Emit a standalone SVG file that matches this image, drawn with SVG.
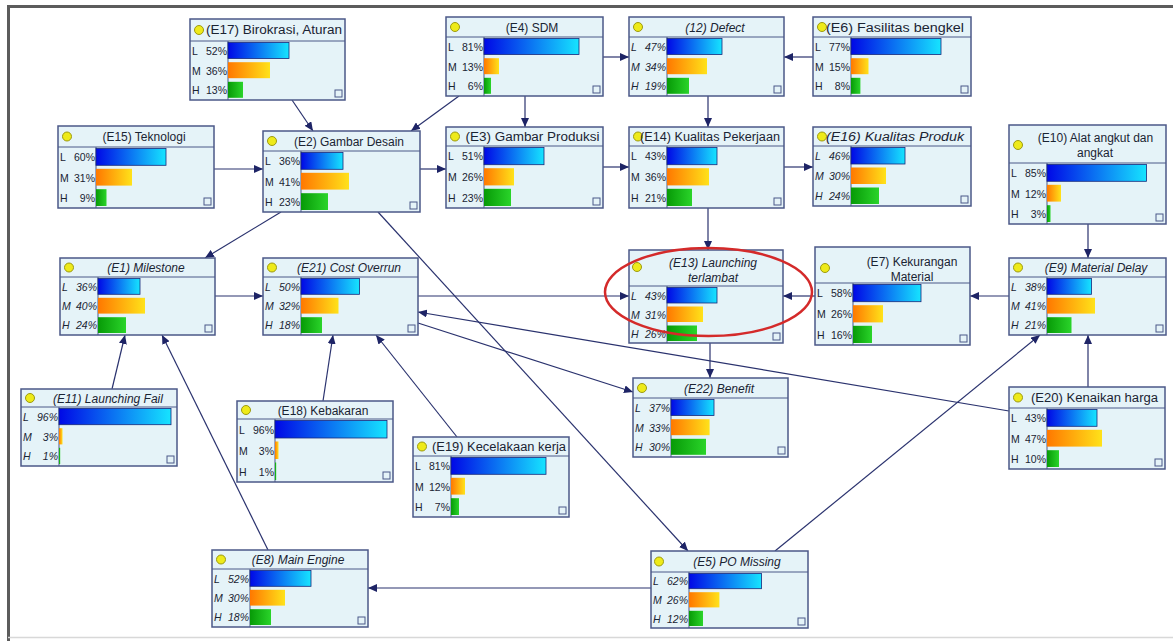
<svg xmlns="http://www.w3.org/2000/svg" width="1173" height="641" viewBox="0 0 1173 641">
<style>
.box{fill:#e5f3f8;stroke:#4b5888;stroke-width:1.5}
.sep{stroke:#4b5888;stroke-width:1;fill:none}
.ttl{font-family:"Liberation Sans",Arial,sans-serif;font-size:12px;fill:#1a2433;text-anchor:middle}
.lab{font-family:"Liberation Sans",Arial,sans-serif;font-size:10.5px;fill:#1a2433}
.end{text-anchor:end}
.it{font-style:italic}
.dot{fill:#eeea1a;stroke:#9c9a10;stroke-width:1}
.bL{fill:url(#gL);stroke:#17297a;stroke-width:0.8}
.bM{fill:url(#gM)}
.bH{fill:url(#gH)}
.ico{fill:none;stroke:#4b5888;stroke-width:1}
.edge{stroke:#2a326e;stroke-width:1.2;fill:none;marker-end:url(#ah)}
.frame{stroke:#5c5c5c;stroke-width:3;fill:none}
</style>
<defs>
<linearGradient id="gL" x1="0" y1="0" x2="1" y2="0"><stop offset="0" stop-color="#0008e6"/><stop offset="1" stop-color="#16e4ff"/></linearGradient>
<linearGradient id="gM" x1="0" y1="0" x2="1" y2="0"><stop offset="0" stop-color="#ff7800"/><stop offset="1" stop-color="#ffe21a"/></linearGradient>
<linearGradient id="gH" x1="0" y1="0" x2="1" y2="0"><stop offset="0" stop-color="#079a07"/><stop offset="1" stop-color="#2ad42a"/></linearGradient>
<marker id="ah" markerUnits="userSpaceOnUse" markerWidth="9" markerHeight="8" refX="9" refY="4" orient="auto"><path d="M0,0 L9,4 L0,8 Z" fill="#1e2466"/></marker>
</defs>
<rect width="1173" height="641" fill="#ffffff"/>
<path class="frame" d="M8.5,641 V6.5 H1173"/>
<path d="M8,637.5 H1173" stroke="#d8d8d8" stroke-width="1.5"/>

<g id="connectors">
<line class="edge" x1="292" y1="100" x2="313" y2="131"/>
<line class="edge" x1="459" y1="96" x2="411" y2="131"/>
<line class="edge" x1="525" y1="96" x2="525" y2="127"/>
<line class="edge" x1="603" y1="57" x2="629" y2="57"/>
<line class="edge" x1="813" y1="57" x2="784" y2="57"/>
<line class="edge" x1="708" y1="96" x2="708" y2="127"/>
<line class="edge" x1="214" y1="169" x2="263" y2="169"/>
<line class="edge" x1="420" y1="169" x2="446" y2="169"/>
<line class="edge" x1="603" y1="167" x2="629" y2="167"/>
<line class="edge" x1="784" y1="167" x2="813" y2="167"/>
<line class="edge" x1="708" y1="208" x2="708" y2="250"/>
<line class="edge" x1="1088" y1="224" x2="1088" y2="258"/>
<line class="edge" x1="281" y1="212" x2="205" y2="258"/>
<line class="edge" x1="378" y1="212" x2="688" y2="551"/>
<line class="edge" x1="215" y1="296" x2="263" y2="296"/>
<line class="edge" x1="418" y1="296" x2="629" y2="296"/>
<line class="edge" x1="1009" y1="296" x2="970" y2="296"/>
<line class="edge" x1="815" y1="296" x2="783" y2="296"/>
<line class="edge" x1="710" y1="343" x2="710" y2="378"/>
<line class="edge" x1="418" y1="323" x2="633" y2="392"/>
<line class="edge" x1="1009" y1="411" x2="418" y2="312"/>
<line class="edge" x1="1088" y1="387" x2="1088" y2="335"/>
<line class="edge" x1="775" y1="551" x2="1040" y2="335"/>
<line class="edge" x1="651" y1="588" x2="368" y2="588"/>
<line class="edge" x1="112" y1="389" x2="125" y2="335"/>
<line class="edge" x1="268" y1="550" x2="162" y2="335"/>
<line class="edge" x1="323" y1="401" x2="333" y2="335"/>
<line class="edge" x1="457" y1="437" x2="376" y2="335"/>
</g>

<g id="E17" transform="translate(190,19)">
<rect class="box" width="155" height="81"/><path class="sep" d="M0,22H155M38,22V81"/>
<circle class="dot" cx="9" cy="11" r="4.5"/><text class="ttl" x="84" y="15" textLength="136" lengthAdjust="spacingAndGlyphs">(E17) Birokrasi, Aturan</text>
<rect class="bL" x="38" y="23.5" width="61" height="16"/><rect class="bM" x="38" y="43.2" width="42" height="16"/><rect class="bH" x="38" y="62.8" width="15" height="16"/>
<text class="lab" x="2" y="35.8">L</text><text class="lab end" x="37" y="35.8">52%</text>
<text class="lab" x="2" y="55.5">M</text><text class="lab end" x="37" y="55.5">36%</text>
<text class="lab" x="2" y="75.2">H</text><text class="lab end" x="37" y="75.2">13%</text>
<rect class="ico" x="145" y="71" width="7" height="7"/>
</g>

<g id="E4" transform="translate(446,17)">
<rect class="box" width="157" height="79"/><path class="sep" d="M0,20H157M38,20V79"/>
<circle class="dot" cx="9" cy="10" r="4.5"/><text class="ttl" x="86" y="14.5">(E4) SDM</text>
<rect class="bL" x="38" y="21.5" width="95" height="16"/><rect class="bM" x="38" y="41.2" width="15" height="16"/><rect class="bH" x="38" y="60.8" width="7" height="16"/>
<text class="lab" x="2" y="33.8">L</text><text class="lab end" x="37" y="33.8">81%</text>
<text class="lab" x="2" y="53.5">M</text><text class="lab end" x="37" y="53.5">13%</text>
<text class="lab" x="2" y="73.2">H</text><text class="lab end" x="37" y="73.2">6%</text>
<rect class="ico" x="147" y="69" width="7" height="7"/>
</g>

<g id="E12" transform="translate(629,17)">
<rect class="box" width="155" height="79"/><path class="sep" d="M0,20H155M38,20V79"/>
<circle class="dot" cx="9" cy="10" r="4.5"/><text class="ttl it" x="86" y="14.5">(12) Defect</text>
<rect class="bL" x="38" y="21.5" width="55" height="16"/><rect class="bM" x="38" y="41.2" width="40" height="16"/><rect class="bH" x="38" y="60.8" width="22" height="16"/>
<text class="lab it" x="2" y="33.8">L</text><text class="lab end it" x="37" y="33.8">47%</text>
<text class="lab it" x="2" y="53.5">M</text><text class="lab end it" x="37" y="53.5">34%</text>
<text class="lab it" x="2" y="73.2">H</text><text class="lab end it" x="37" y="73.2">19%</text>
<rect class="ico" x="145" y="69" width="7" height="7"/>
</g>

<g id="E6" transform="translate(813,17)">
<rect class="box" width="158" height="79"/><path class="sep" d="M0,20H158M38,20V79"/>
<circle class="dot" cx="9" cy="10" r="4.5"/><text class="ttl" x="82" y="14.5" textLength="138" lengthAdjust="spacingAndGlyphs">(E6) Fasilitas bengkel</text>
<rect class="bL" x="38" y="21.5" width="90" height="16"/><rect class="bM" x="38" y="41.2" width="17.5" height="16"/><rect class="bH" x="38" y="60.8" width="9.4" height="16"/>
<text class="lab" x="2" y="33.8">L</text><text class="lab end" x="37" y="33.8">77%</text>
<text class="lab" x="2" y="53.5">M</text><text class="lab end" x="37" y="53.5">15%</text>
<text class="lab" x="2" y="73.2">H</text><text class="lab end" x="37" y="73.2">8%</text>
<rect class="ico" x="148" y="69" width="7" height="7"/>
</g>

<g id="E15" transform="translate(58,126)">
<rect class="box" width="156" height="82"/><path class="sep" d="M0,21H156M38,21V82"/>
<circle class="dot" cx="9" cy="10.5" r="4.5"/><text class="ttl" x="86" y="15">(E15) Teknologi</text>
<rect class="bL" x="38" y="22.5" width="70" height="16.8"/><rect class="bM" x="38" y="42.8" width="36" height="16.8"/><rect class="bH" x="38" y="63.2" width="10.5" height="16.8"/>
<text class="lab" x="2" y="35.2">L</text><text class="lab end" x="37" y="35.2">60%</text>
<text class="lab" x="2" y="55.5">M</text><text class="lab end" x="37" y="55.5">31%</text>
<text class="lab" x="2" y="75.8">H</text><text class="lab end" x="37" y="75.8">9%</text>
<rect class="ico" x="146" y="72" width="7" height="7"/>
</g>

<g id="E2" transform="translate(263,131)">
<rect class="box" width="157" height="81"/><path class="sep" d="M0,20H157M38,20V81"/>
<circle class="dot" cx="9" cy="10" r="4.5"/><text class="ttl" x="86" y="14.5">(E2) Gambar Desain</text>
<rect class="bL" x="38" y="21.5" width="42" height="16.8"/><rect class="bM" x="38" y="41.8" width="48" height="16.8"/><rect class="bH" x="38" y="62.2" width="27" height="16.8"/>
<text class="lab" x="2" y="34.2">L</text><text class="lab end" x="37" y="34.2">36%</text>
<text class="lab" x="2" y="54.5">M</text><text class="lab end" x="37" y="54.5">41%</text>
<text class="lab" x="2" y="74.8">H</text><text class="lab end" x="37" y="74.8">23%</text>
<rect class="ico" x="147" y="71" width="7" height="7"/>
</g>

<g id="E3" transform="translate(446,127)">
<rect class="box" width="157" height="81"/><path class="sep" d="M0,19H157M38,19V81"/>
<circle class="dot" cx="9" cy="9.5" r="4.5"/><text class="ttl" x="86.5" y="14" textLength="134" lengthAdjust="spacingAndGlyphs">(E3) Gambar Produksi</text>
<rect class="bL" x="38" y="20.5" width="60" height="17.2"/><rect class="bM" x="38" y="41.2" width="30" height="17.2"/><rect class="bH" x="38" y="61.8" width="27" height="17.2"/>
<text class="lab" x="2" y="33.3">L</text><text class="lab end" x="37" y="33.3">51%</text>
<text class="lab" x="2" y="54">M</text><text class="lab end" x="37" y="54">26%</text>
<text class="lab" x="2" y="74.7">H</text><text class="lab end" x="37" y="74.7">23%</text>
<rect class="ico" x="147" y="71" width="7" height="7"/>
</g>

<g id="E14" transform="translate(629,127)">
<rect class="box" width="155" height="81"/><path class="sep" d="M0,19H155M38,19V81"/>
<circle class="dot" cx="9" cy="9.5" r="4.5"/><text class="ttl" x="81" y="14" textLength="140" lengthAdjust="spacingAndGlyphs">(E14) Kualitas Pekerjaan</text>
<rect class="bL" x="38" y="20.5" width="50" height="17.2"/><rect class="bM" x="38" y="41.2" width="42" height="17.2"/><rect class="bH" x="38" y="61.8" width="25" height="17.2"/>
<text class="lab" x="2" y="33.3">L</text><text class="lab end" x="37" y="33.3">43%</text>
<text class="lab" x="2" y="54">M</text><text class="lab end" x="37" y="54">36%</text>
<text class="lab" x="2" y="74.7">H</text><text class="lab end" x="37" y="74.7">21%</text>
<rect class="ico" x="145" y="71" width="7" height="7"/>
</g>

<g id="E16" transform="translate(813,127)">
<rect class="box" width="158" height="79"/><path class="sep" d="M0,19H158M38,19V79"/>
<circle class="dot" cx="9" cy="9.5" r="4.5"/><text class="ttl it" x="82" y="14" textLength="138" lengthAdjust="spacingAndGlyphs">(E16) Kualitas Produk</text>
<rect class="bL" x="38" y="20.5" width="54" height="16.5"/><rect class="bM" x="38" y="40.5" width="35" height="16.5"/><rect class="bH" x="38" y="60.5" width="28" height="16.5"/>
<text class="lab it" x="2" y="33">L</text><text class="lab end it" x="37" y="33">46%</text>
<text class="lab it" x="2" y="53">M</text><text class="lab end it" x="37" y="53">30%</text>
<text class="lab it" x="2" y="73">H</text><text class="lab end it" x="37" y="73">24%</text>
<rect class="ico" x="148" y="69" width="7" height="7"/>
</g>

<g id="E10" transform="translate(1009,125)">
<rect class="box" width="157" height="99"/><path class="sep" d="M0,38H157M38,38V99"/>
<circle class="dot" cx="9" cy="20" r="4.5"/><text class="ttl" x="86.5" y="17">(E10) Alat angkut dan</text><text class="ttl" x="86" y="32">angkat</text>
<rect class="bL" x="38" y="39.5" width="99.5" height="16.8"/><rect class="bM" x="38" y="59.8" width="14" height="16.8"/><rect class="bH" x="38" y="80.2" width="3.5" height="16.8"/>
<text class="lab" x="2" y="52.2">L</text><text class="lab end" x="37" y="52.2">85%</text>
<text class="lab" x="2" y="72.5">M</text><text class="lab end" x="37" y="72.5">12%</text>
<text class="lab" x="2" y="92.8">H</text><text class="lab end" x="37" y="92.8">3%</text>
<rect class="ico" x="147" y="89" width="7" height="7"/>
</g>

<g id="E1" transform="translate(60,258)">
<rect class="box" width="155" height="77"/><path class="sep" d="M0,19H155M38,19V77"/>
<circle class="dot" cx="9" cy="9.5" r="4.5"/><text class="ttl it" x="86" y="14">(E1) Milestone</text>
<rect class="bL" x="38" y="20.5" width="42" height="15.8"/><rect class="bM" x="38" y="39.8" width="47" height="15.8"/><rect class="bH" x="38" y="59.2" width="28" height="15.8"/>
<text class="lab it" x="2" y="32.7">L</text><text class="lab end it" x="37" y="32.7">36%</text>
<text class="lab it" x="2" y="52">M</text><text class="lab end it" x="37" y="52">40%</text>
<text class="lab it" x="2" y="71.3">H</text><text class="lab end it" x="37" y="71.3">24%</text>
<rect class="ico" x="145" y="67" width="7" height="7"/>
</g>

<g id="E21" transform="translate(263,258)">
<rect class="box" width="155" height="77"/><path class="sep" d="M0,19H155M38,19V77"/>
<circle class="dot" cx="9" cy="9.5" r="4.5"/><text class="ttl it" x="86" y="14">(E21) Cost Overrun</text>
<rect class="bL" x="38" y="20.5" width="58.5" height="15.8"/><rect class="bM" x="38" y="39.8" width="37.5" height="15.8"/><rect class="bH" x="38" y="59.2" width="21" height="15.8"/>
<text class="lab it" x="2" y="32.7">L</text><text class="lab end it" x="37" y="32.7">50%</text>
<text class="lab it" x="2" y="52">M</text><text class="lab end it" x="37" y="52">32%</text>
<text class="lab it" x="2" y="71.3">H</text><text class="lab end it" x="37" y="71.3">18%</text>
<rect class="ico" x="145" y="67" width="7" height="7"/>
</g>

<g id="E13" transform="translate(629,250)">
<rect class="box" width="154" height="93"/><path class="sep" d="M0,36H154M38,36V93"/>
<circle class="dot" cx="8" cy="17" r="4.5"/><text class="ttl it" x="84" y="17">(E13) Launching</text><text class="ttl it" x="84" y="32">terlambat</text>
<rect class="bL" x="38" y="37.5" width="50" height="15.5"/><rect class="bM" x="38" y="56.5" width="36" height="15.5"/><rect class="bH" x="38" y="75.5" width="30" height="15.5"/>
<text class="lab it" x="2" y="49.5">L</text><text class="lab end it" x="37" y="49.5">43%</text>
<text class="lab it" x="2" y="68.5">M</text><text class="lab end it" x="37" y="68.5">31%</text>
<text class="lab it" x="2" y="87.5">H</text><text class="lab end it" x="37" y="87.5">26%</text>
<rect class="ico" x="144" y="83" width="7" height="7"/>
</g>

<g id="E7" transform="translate(815,247)">
<rect class="box" width="155" height="98"/><path class="sep" d="M0,36H155M38,36V98"/>
<circle class="dot" cx="10" cy="21" r="4.5"/><text class="ttl" x="97" y="19">(E7) Kekurangan</text><text class="ttl" x="97" y="34">Material</text>
<rect class="bL" x="38" y="37.5" width="68" height="17.2"/><rect class="bM" x="38" y="58.2" width="30" height="17.2"/><rect class="bH" x="38" y="78.8" width="19" height="17.2"/>
<text class="lab" x="2" y="50.3">L</text><text class="lab end" x="37" y="50.3">58%</text>
<text class="lab" x="2" y="71">M</text><text class="lab end" x="37" y="71">26%</text>
<text class="lab" x="2" y="91.7">H</text><text class="lab end" x="37" y="91.7">16%</text>
<rect class="ico" x="145" y="88" width="7" height="7"/>
</g>

<g id="E9" transform="translate(1009,258)">
<rect class="box" width="157" height="77"/><path class="sep" d="M0,19H157M38,19V77"/>
<circle class="dot" cx="9" cy="9.5" r="4.5"/><text class="ttl it" x="87" y="14">(E9) Material Delay</text>
<rect class="bL" x="38" y="20.5" width="44.5" height="15.8"/><rect class="bM" x="38" y="39.8" width="48" height="15.8"/><rect class="bH" x="38" y="59.2" width="24.5" height="15.8"/>
<text class="lab it" x="2" y="32.7">L</text><text class="lab end it" x="37" y="32.7">38%</text>
<text class="lab it" x="2" y="52">M</text><text class="lab end it" x="37" y="52">41%</text>
<text class="lab it" x="2" y="71.3">H</text><text class="lab end it" x="37" y="71.3">21%</text>
<rect class="ico" x="147" y="67" width="7" height="7"/>
</g>

<g id="E22" transform="translate(633,378)">
<rect class="box" width="155" height="79"/><path class="sep" d="M0,20H155M38,20V79"/>
<circle class="dot" cx="9" cy="10" r="4.5"/><text class="ttl it" x="86" y="14.5">(E22) Benefit</text>
<rect class="bL" x="38" y="21.5" width="43" height="16"/><rect class="bM" x="38" y="41.2" width="38.6" height="16"/><rect class="bH" x="38" y="60.8" width="35" height="16"/>
<text class="lab it" x="2" y="33.8">L</text><text class="lab end it" x="37" y="33.8">37%</text>
<text class="lab it" x="2" y="53.5">M</text><text class="lab end it" x="37" y="53.5">33%</text>
<text class="lab it" x="2" y="73.2">H</text><text class="lab end it" x="37" y="73.2">30%</text>
<rect class="ico" x="145" y="69" width="7" height="7"/>
</g>

<g id="E11" transform="translate(21,389)">
<rect class="box" width="156" height="77"/><path class="sep" d="M0,18H156M38,18V77"/>
<circle class="dot" cx="9" cy="9" r="4.5"/><text class="ttl it" x="87" y="13.5">(E11) Launching Fail</text>
<rect class="bL" x="38" y="19.5" width="112" height="16.2"/><rect class="bM" x="38" y="39.2" width="3.5" height="16.2"/><rect class="bH" x="38" y="58.8" width="1.2" height="16.2"/>
<text class="lab it" x="2" y="31.8">L</text><text class="lab end it" x="37" y="31.8">96%</text>
<text class="lab it" x="2" y="51.5">M</text><text class="lab end it" x="37" y="51.5">3%</text>
<text class="lab it" x="2" y="71.2">H</text><text class="lab end it" x="37" y="71.2">1%</text>
<rect class="ico" x="146" y="67" width="7" height="7"/>
</g>

<g id="E18" transform="translate(237,401)">
<rect class="box" width="156" height="81"/><path class="sep" d="M0,18H156M38,18V81"/>
<circle class="dot" cx="9" cy="9" r="4.5"/><text class="ttl" x="86" y="13.5">(E18) Kebakaran</text>
<rect class="bL" x="38" y="19.5" width="112" height="17.5"/><rect class="bM" x="38" y="40.5" width="3.5" height="17.5"/><rect class="bH" x="38" y="61.5" width="1.2" height="17.5"/>
<text class="lab" x="2" y="32.5">L</text><text class="lab end" x="37" y="32.5">96%</text>
<text class="lab" x="2" y="53.5">M</text><text class="lab end" x="37" y="53.5">3%</text>
<text class="lab" x="2" y="74.5">H</text><text class="lab end" x="37" y="74.5">1%</text>
<rect class="ico" x="146" y="71" width="7" height="7"/>
</g>

<g id="E19" transform="translate(413,437)">
<rect class="box" width="156" height="80"/><path class="sep" d="M0,19H156M38,19V80"/>
<circle class="dot" cx="9" cy="9.5" r="4.5"/><text class="ttl" x="86" y="14" textLength="134" lengthAdjust="spacingAndGlyphs">(E19) Kecelakaan kerja</text>
<rect class="bL" x="38" y="20.5" width="95" height="16.8"/><rect class="bM" x="38" y="40.8" width="14" height="16.8"/><rect class="bH" x="38" y="61.2" width="8" height="16.8"/>
<text class="lab" x="2" y="33.2">L</text><text class="lab end" x="37" y="33.2">81%</text>
<text class="lab" x="2" y="53.5">M</text><text class="lab end" x="37" y="53.5">12%</text>
<text class="lab" x="2" y="73.8">H</text><text class="lab end" x="37" y="73.8">7%</text>
<rect class="ico" x="146" y="70" width="7" height="7"/>
</g>

<g id="E20" transform="translate(1009,387)">
<rect class="box" width="156" height="82"/><path class="sep" d="M0,21H156M38,21V82"/>
<circle class="dot" cx="9" cy="10.5" r="4.5"/><text class="ttl" x="85.5" y="15" textLength="127" lengthAdjust="spacingAndGlyphs">(E20) Kenaikan harga</text>
<rect class="bL" x="38" y="22.5" width="50" height="16.8"/><rect class="bM" x="38" y="42.8" width="55" height="16.8"/><rect class="bH" x="38" y="63.2" width="12" height="16.8"/>
<text class="lab" x="2" y="35.2">L</text><text class="lab end" x="37" y="35.2">43%</text>
<text class="lab" x="2" y="55.5">M</text><text class="lab end" x="37" y="55.5">47%</text>
<text class="lab" x="2" y="75.8">H</text><text class="lab end" x="37" y="75.8">10%</text>
<rect class="ico" x="146" y="72" width="7" height="7"/>
</g>

<g id="E8" transform="translate(212,550)">
<rect class="box" width="156" height="77"/><path class="sep" d="M0,19H156M38,19V77"/>
<circle class="dot" cx="9" cy="9.5" r="4.5"/><text class="ttl it" x="86" y="14">(E8) Main Engine</text>
<rect class="bL" x="38" y="20.5" width="61" height="15.8"/><rect class="bM" x="38" y="39.8" width="35" height="15.8"/><rect class="bH" x="38" y="59.2" width="21" height="15.8"/>
<text class="lab it" x="2" y="32.7">L</text><text class="lab end it" x="37" y="32.7">52%</text>
<text class="lab it" x="2" y="52">M</text><text class="lab end it" x="37" y="52">30%</text>
<text class="lab it" x="2" y="71.3">H</text><text class="lab end it" x="37" y="71.3">18%</text>
<rect class="ico" x="146" y="67" width="7" height="7"/>
</g>

<g id="E5" transform="translate(651,551)">
<rect class="box" width="157" height="77"/><path class="sep" d="M0,21H157M38,21V77"/>
<circle class="dot" cx="8" cy="10.5" r="4.5"/><text class="ttl it" x="86" y="15">(E5) PO Missing</text>
<rect class="bL" x="38" y="22.5" width="72.5" height="15.2"/><rect class="bM" x="38" y="41.2" width="30.4" height="15.2"/><rect class="bH" x="38" y="59.8" width="14" height="15.2"/>
<text class="lab it" x="2" y="34.3">L</text><text class="lab end it" x="37" y="34.3">62%</text>
<text class="lab it" x="2" y="53">M</text><text class="lab end it" x="37" y="53">26%</text>
<text class="lab it" x="2" y="71.7">H</text><text class="lab end it" x="37" y="71.7">12%</text>
<rect class="ico" x="147" y="67" width="7" height="7"/>
</g>

<ellipse cx="708.5" cy="292" rx="103.5" ry="44" fill="none" stroke="#d42a2a" stroke-width="2.5"/>
</svg>
